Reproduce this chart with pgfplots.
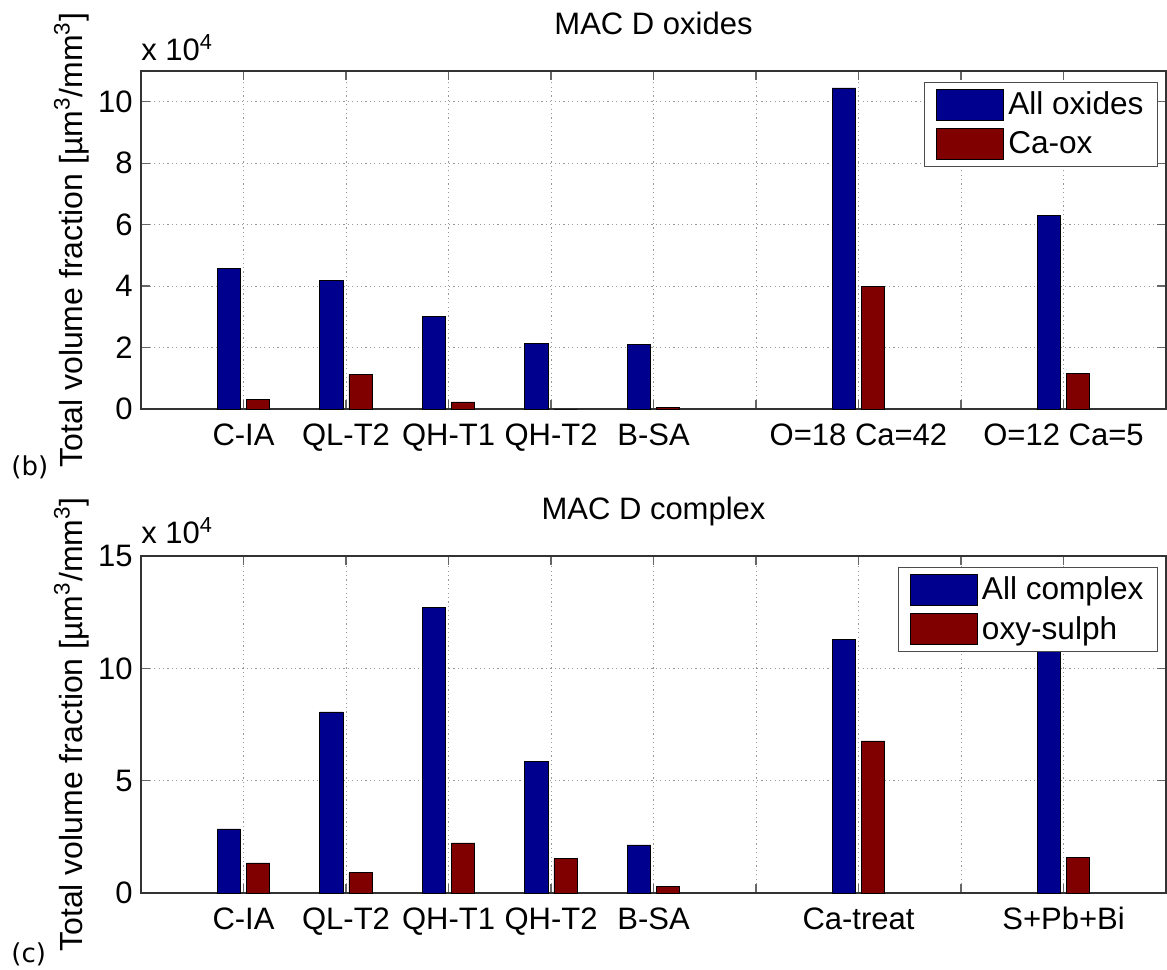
\documentclass[border=0pt]{standalone}
\usepackage{pgfplots}
\pgfplotsset{compat=1.18}
\usepackage{fontspec}
\setmainfont{Liberation Sans}
\newfontfamily\djv{DejaVu Sans}
\definecolor{mblue}{rgb}{0,0,0.56}
\definecolor{mred}{rgb}{0.5,0,0}
\newcommand{\fs}{\fontsize{15.5bp}{18bp}\selectfont}
\newcommand{\fy}{\fontsize{16bp}{18bp}\selectfont}
\newcommand{\fl}{\fontsize{15.8bp}{18bp}\selectfont}
\pgfplotsset{
 mystyle/.style={
  scale only axis, width=512.5bp,
  xmin=0, xmax=10, xtick={1,...,9},
  ymin=0, clip=false,
  tick align=inside,
  grid=major,
  major grid style={black!40, dash pattern=on 0.6bp off 1.6bp, line width=0.5bp},
  major tick length=4.5bp,
  every tick/.style={black!60, line width=0.6bp},
  axis line style={black!80, line width=0.6bp},
  tick label style={font=\fs},
  /pgf/number format/assume math mode=true,
  xticklabel style={anchor=base, yshift=-18bp},
  yticklabel style={anchor=east, inner sep=0pt, xshift=-4bp},
  title style={font=\fs, at={(axis description cs:0.5,1)}, anchor=base, yshift=12.5bp},
  ylabel style={font=\fy, at={(axis description cs:-0.05756,0.5)}, anchor=base},
  legend style={at={(axis description cs:1,1)}, anchor=north east, xshift=-4bp, yshift=-5.5bp,
    draw=black!70, line width=0.5bp, font=\fl, inner xsep=6bp, inner ysep=3bp,
    row sep=4bp, column sep=1bp, nodes={inner sep=1bp}},
  legend cell align=left,
  legend image code/.code={\draw[#1] (0bp,-7.75bp) rectangle (33.5bp,7.75bp);},
 },
 bluebar/.style={ybar, bar width=0.2286, bar shift=-0.1429, fill=mblue, draw=black, line width=0.4bp},
 redbar/.style={ybar, bar width=0.2286, bar shift=0.1429, fill=mred, draw=black, line width=0.4bp},
}
\begin{document}
\begin{tikzpicture}
\path[use as bounding box] (-70.5bp,35.5bp) rectangle (513bp,-449.5bp);
\begin{axis}[mystyle, name=top, at={(0,0)}, anchor=north west, height=169bp,
  ymax=11, ytick={0,2,...,10},
  title={MAC D oxides},
  ylabel={Total volume fraction [µm\textsuperscript{3}/mm\textsuperscript{3}]},
  xticklabels={C-IA,QL-T2,QH-T1,QH-T2,B-SA,,O=18 Ca=42,,O=12 Ca=5}]
\addplot[bluebar] coordinates {(1,4.57) (2,4.17) (3,3.01) (4,2.14) (5,2.10) (7,10.45) (9,6.31)};
\addlegendentry{All oxides}
\addplot[redbar] coordinates {(1,0.32) (2,1.13) (3,0.23) (4,0) (5,0.06) (7,3.98) (9,1.17)};
\addlegendentry{Ca-ox}
\end{axis}
\node[font=\fs, anchor=base west, inner sep=0pt] at ([yshift=5.5bp]top.north west) {x 10\textsuperscript{4}};
\begin{axis}[mystyle, name=bot, at={(0,-242.5bp)}, anchor=north west, height=168.5bp,
  ymax=15, ytick={0,5,10,15},
  title={MAC D complex},
  ylabel={Total volume fraction [µm\textsuperscript{3}/mm\textsuperscript{3}]},
  xticklabels={C-IA,QL-T2,QH-T1,QH-T2,B-SA,,Ca-treat,,S+Pb+Bi}]
\addplot[bluebar] coordinates {(1,2.85) (2,8.06) (3,12.7) (4,5.84) (5,2.14) (7,11.27) (9,10.9)};
\addlegendentry{All complex}
\addplot[redbar] coordinates {(1,1.34) (2,0.90) (3,2.23) (4,1.52) (5,0.28) (7,6.77) (9,1.60)};
\addlegendentry{oxy-sulph}
\end{axis}
\node[font=\fs, anchor=base west, inner sep=0pt] at ([yshift=6.5bp]bot.north west) {x 10\textsuperscript{4}};
\node[font=\djv\fontsize{13bp}{15bp}\selectfont, anchor=base west, inner sep=0pt] at (-65bp,-202bp) {(b)};
\node[font=\djv\fontsize{13bp}{15bp}\selectfont, anchor=base west, inner sep=0pt] at (-65bp,-445.5bp) {(c)};
\end{tikzpicture}
\end{document}
